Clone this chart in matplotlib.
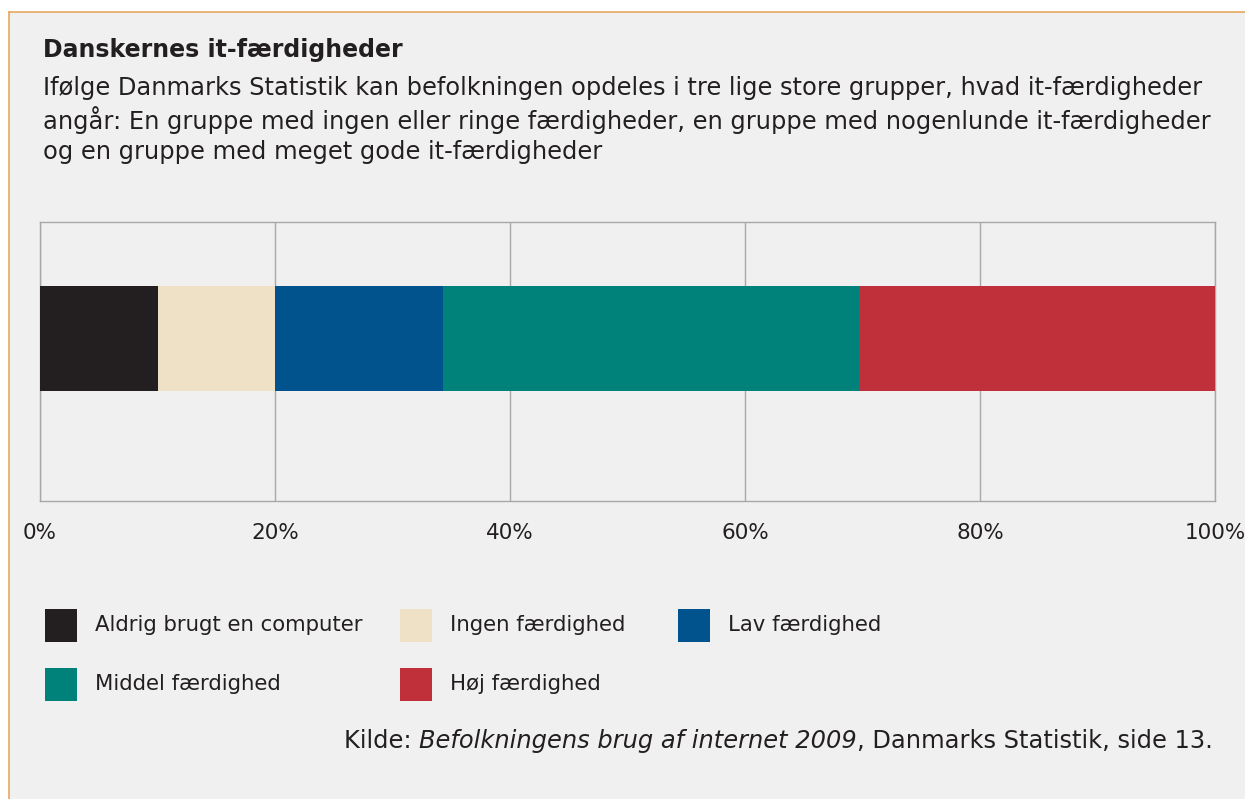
import matplotlib.pyplot as plt
from matplotlib.patches import Rectangle
from matplotlib.lines import Line2D

# data
categories = ['Aldrig brugt en computer', 'Ingen færdighed', 'Lav færdighed',
              'Middel færdighed', 'Høj færdighed']
values = [10.0, 10.0, 14.3, 35.4, 30.3]
colors = ['#231f20', '#efe1c6', '#00538c', '#00827a', '#c0303a']
ticks = [0, 20, 40, 60, 80, 100]
tick_labels = ['0%', '20%', '40%', '60%', '80%', '100%']

bg = '#eff0ef'
W, H = 1245, 799

plt.rcParams['font.family'] = 'DejaVu Sans'
fig = plt.figure(figsize=(W / 100, H / 100), dpi=100)
fig.patch.set_facecolor('white')

# panel background + orange border
fig.patches.append(Rectangle((9 / W, 0), 1 - 9 / W, 1 - 12 / H, transform=fig.transFigure,
                             facecolor=bg, edgecolor='none', zorder=-10))
fig.lines.append(Line2D([9 / W, 1], [1 - 12 / H, 1 - 12 / H], transform=fig.transFigure,
                        color='#e6a860', lw=1.2))
fig.lines.append(Line2D([9 / W, 9 / W], [0, 1 - 12 / H], transform=fig.transFigure,
                        color='#e6a860', lw=1.2))

# title / subtitle
fig.text(43 / W, 1 - 50 / H, 'Danskernes it-færdigheder', fontsize=17, fontweight='bold',
         color='#231f20', va='center')
sub = ['Ifølge Danmarks Statistik kan befolkningen opdeles i tre lige store grupper, hvad it-færdigheder',
       'angår: En gruppe med ingen eller ringe færdigheder, en gruppe med nogenlunde it-færdigheder',
       'og en gruppe med meget gode it-færdigheder']
for i, line in enumerate(sub):
    fig.text(43 / W, 1 - (88 + 32 * i) / H, line, fontsize=17.4, color='#231f20', va='center')

# axes
ax = fig.add_axes([40 / W, 1 - 501 / H, (1215 - 40) / W, (501 - 222) / H])
ax.set_facecolor(bg)
left = 0
for v, c, lab in zip(values, colors, categories):
    ax.barh(0, v, left=left, height=1, color=c, label=lab, zorder=3)
    left += v
ax.set_xlim(0, 100)
ax.set_ylim(-1.548, 1.11)
ax.set_yticks([])
ax.set_xticks(ticks)
ax.set_xticklabels(tick_labels, fontsize=15.5, color='#231f20')
ax.tick_params(axis='x', length=0, pad=16)
ax.grid(axis='x', color='#a8a8a8', lw=1, zorder=1)
for s in ax.spines.values():
    s.set_color('#a8a8a8')
    s.set_linewidth(1)

# legend
leg_pos = [(45, 625), (400, 625), (678, 625), (45, 684), (400, 684)]
for (x, y), c, lab in zip(leg_pos, colors, categories):
    fig.patches.append(Rectangle((x / W, 1 - (y + 16.5) / H), 32 / W, 33 / H,
                                 transform=fig.transFigure, facecolor=c, edgecolor='none'))
    fig.text((x + 50) / W, 1 - y / H, lab, fontsize=15.3, color='#231f20', va='center')

# source, right aligned, with italic title
renderer = fig.canvas.get_renderer()
parts = [('Kilde: ', 'normal'), ('Befolkningens brug af internet 2009', 'italic'),
         (', Danmarks Statistik, side 13.', 'normal')]
xr = 1213
for txt, st in reversed(parts):
    t = fig.text(xr / W, 1 - 741 / H, txt, fontsize=17.4, style=st, color='#231f20',
                 ha='right', va='center')
    bb = t.get_window_extent(renderer)
    xr -= bb.width

fig.savefig('out.png', dpi=100, facecolor=fig.get_facecolor())
